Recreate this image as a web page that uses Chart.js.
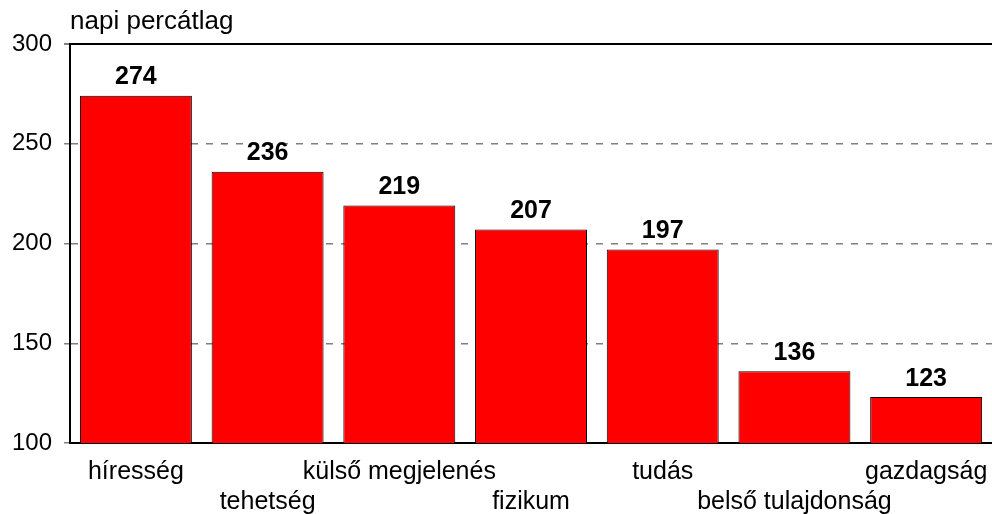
<!DOCTYPE html>
<html>
<head>
<meta charset="utf-8">
<script src="https://cdn.jsdelivr.net/npm/chart.js@4/dist/chart.umd.min.js"></script>
<style>
    html, body { margin: 0; padding: 0; background: #fff; }
    #wrap { width: 992px; height: 514px; position: relative; }
</style>
</head>
<body>
<div id="wrap"><canvas id="chart"></canvas></div>
<script>
'use strict';

// kategóriák és értékek
const categories = ['híresség', 'tehetség', 'külső megjelenés', 'fizikum', 'tudás', 'belső tulajdonság', 'gazdagság'];
const values = [274, 236, 219, 207, 197, 136, 123];
const yTicks = [100, 150, 200, 250, 300];
const yTitle = 'napi percátlag';

const FONT = '"Liberation Sans", Arial, sans-serif';

// felváltva két sorba tesszük a címkéket
const staggered = categories.map((c, i) => (i % 2 === 0 ? c : ['', c]));

// értékek a hasábok fölé + tengelycím bal fent
const labelsPlugin = {
    id: 'barLabels',
    afterDatasetsDraw(chart) {
        const ctx = chart.ctx;
        const meta = chart.getDatasetMeta(0);
        ctx.save();
        ctx.fillStyle = '#000';
        ctx.font = 'bold 25px ' + FONT;
        ctx.textAlign = 'center';
        ctx.textBaseline = 'bottom';
        meta.data.forEach((bar, i) => {
            ctx.fillText(String(values[i]), bar.x, bar.y - 6);
        });
        ctx.font = '26px ' + FONT;
        ctx.textAlign = 'left';
        ctx.textBaseline = 'middle';
        ctx.fillText(yTitle, chart.chartArea.left, 22);
        ctx.restore();
    },
};

new Chart(document.getElementById('chart'), {
    type: 'bar',
    data: {
        labels: staggered,
        datasets: [
            {
                data: values,
                backgroundColor: '#ff0000',
                borderColor: '#000',
                borderWidth: 1,
                borderSkipped: false,
                barPercentage: 0.85,
                categoryPercentage: 1,
            },
        ],
    },
    options: {
        responsive: true,
        maintainAspectRatio: false,
        animation: false,
        layout: { padding: { top: 44, right: 0, left: 0, bottom: 0 } },
        plugins: {
            legend: { display: false },
            tooltip: { enabled: false },
        },
        scales: {
            x: {
                // a tengely magassága és jobb széle fix, hogy a rajzterület kitöltse a képet
                afterFit(axis) {
                    axis.height = 71;
                    axis.paddingRight = 0;
                },
                grid: { display: false, drawTicks: false },
                border: { display: true, color: '#000', width: 2 },
                ticks: {
                    color: '#000',
                    font: { family: FONT, size: 25, lineHeight: 1.2 },
                    maxRotation: 0,
                    autoSkip: false,
                    padding: 14,
                },
            },
            y: {
                min: yTicks[0],
                max: yTicks[yTicks.length - 1],
                afterBuildTicks(axis) {
                    axis.ticks = yTicks.map((v) => ({ value: v }));
                },
                grid: {
                    color: (c) => (c.tick && c.tick.value === 300 ? '#000' : '#808080'),
                    lineWidth: (c) => (c.tick && c.tick.value === 300 ? 2 : 1.5),
                    tickLength: 6,
                    tickColor: '#808080',
                },
                border: {
                    display: true,
                    color: '#000',
                    width: 2,
                    dash: (c) => (c.tick && c.tick.value === 300 ? [] : [7, 8]),
                },
                ticks: {
                    color: '#000',
                    font: { family: FONT, size: 24 },
                    padding: 12,
                },
            },
        },
    },
    plugins: [labelsPlugin],
});
</script>
</body>
</html>
